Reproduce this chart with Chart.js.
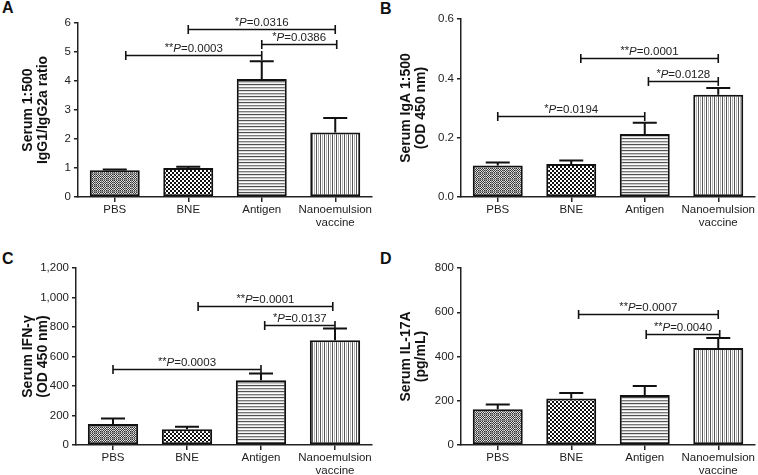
<!DOCTYPE html>
<html><head><meta charset="utf-8">
<script src="https://cdn.jsdelivr.net/npm/chart.js@4"></script>
<style>
body{margin:0;background:#fff;width:758px;height:475px;position:relative;overflow:hidden;font-family:"Liberation Sans",Arial,sans-serif}
canvas{position:absolute}
.lab{position:absolute;font-weight:bold;font-size:16px;line-height:16px;color:#111}
</style></head><body>
<div class="lab" style="left:2px;top:0px">A</div>
<div class="lab" style="left:380px;top:1px">B</div>
<div class="lab" style="left:2px;top:251px">C</div>
<div class="lab" style="left:380px;top:251px">D</div>
<canvas id="cA" width="378" height="235" style="left:0;top:0"></canvas>
<canvas id="cB" width="380" height="235" style="left:378px;top:0"></canvas>
<canvas id="cC" width="378" height="240" style="left:0;top:235px"></canvas>
<canvas id="cD" width="380" height="240" style="left:378px;top:235px"></canvas>
<script>
// ---- data ----
const categories = ['PBS', 'BNE', 'Antigen', ['Nanoemulsion', 'vaccine']];

const ratioMeans = [0.92, 1.00, 4.07, 2.22];
const ratioSem   = [0.03, 0.04, 0.61, 0.50];
const ratioTicks = [0, 1, 2, 3, 4, 5, 6];
// [fromCategory, toCategory, yValue, stars, pValue]
const ratioSig = [[0.15, 2, 4.9, '**', '0.0003'], [1, 3, 5.8, '*', '0.0316'], [2, 3.02, 5.29, '*', '0.0386']];

const igaMeans = [0.106, 0.111, 0.212, 0.345];
const igaSem   = [0.010, 0.012, 0.038, 0.022];
const igaTicks = [0.0, 0.2, 0.4, 0.6];
const igaSig = [[0, 2, 0.274, '*', '0.0194'], [1.13, 3, 0.468, '**', '0.0001'], [2.05, 3, 0.391, '*', '0.0128']];

const ifnMeans = [143, 106, 439, 711];
const ifnSem   = [36, 18, 45, 79];
const ifnTicks = [0, 200, 400, 600, 800, 1000, 1200];
const ifnSig = [[0, 2, 516, '**', '0.0003'], [1.15, 2.97, 942, '**', '0.0001'], [2.05, 3, 815, '*', '0.0137']];

const il17Means = [162, 210, 226, 438];
const il17Sem   = [21, 25, 41, 46];
const il17Ticks = [0, 200, 400, 600, 800];
const il17Sig = [[1.1, 3, 593, '**', '0.0007'], [2.02, 3.02, 502, '**', '0.0040']];

// ---- patterns ----
const FAM = '"Liberation Sans", Arial, sans-serif';
function makePattern(w, h, fn) {
  const c = document.createElement('canvas'); c.width = w; c.height = h;
  const g = c.getContext('2d'); fn(g, w, h);
  return g.createPattern(c, 'repeat');
}
function px(g, x, y, col) { g.fillStyle = col; g.fillRect(x, y, 1, 1); }
const patPBS = makePattern(6, 6, (g, w, h) => {
  for (let y = 0; y < h; y++) for (let x = 0; x < w; x++) px(g, x, y, (x + y) % 2 ? '#e0e0e0' : '#353535');
  for (let i = 0; i < 6; i++) { px(g, 5, i, '#8a8a8a'); px(g, i, 5, '#8a8a8a'); }
});
const patBNE = makePattern(4, 4, (g) => {
  g.fillStyle = '#fff'; g.fillRect(0, 0, 4, 4);
  g.fillStyle = '#111'; g.fillRect(0, 0, 2, 2); g.fillRect(2, 2, 2, 2);
});
const patAnt = makePattern(2, 6, (g, w) => {
  const rows = ['#505050', '#dcdcdc', '#ffffff', '#7a7a7a', '#c8c8c8', '#f4f4f4'];
  rows.forEach((c, i) => { g.fillStyle = c; g.fillRect(0, i, w, 1); });
});
const patNano = makePattern(4, 2, (g, w, h) => {
  const cols = ['#555555', '#ffffff', '#b4b4b4', '#ffffff'];
  cols.forEach((c, i) => { g.fillStyle = c; g.fillRect(i, 0, 1, h); });
});
const patterns = [patPBS, patBNE, patAnt, patNano];

function annotPlugin(means, sem, sig) {
  return {
    id: 'annot',
    afterDatasetsDraw(chart) {
      const { ctx, scales: { x, y } } = chart;
      ctx.save();
      ctx.strokeStyle = '#111'; ctx.lineWidth = 2;
      means.forEach((m, i) => {
        const cx = x.getPixelForValue(i);
        const y0 = y.getPixelForValue(m), y1 = y.getPixelForValue(m + sem[i]);
        ctx.beginPath();
        ctx.moveTo(cx, y0); ctx.lineTo(cx, y1);
        ctx.moveTo(cx - 12, y1); ctx.lineTo(cx + 12, y1);
        ctx.stroke();
      });
      ctx.lineWidth = 1.6;
      sig.forEach(([f, t, v, stars, p]) => {
        const x0 = x.getPixelForValue(f), x1 = x.getPixelForValue(t), yy = Math.round(y.getPixelForValue(v)) + 0.5;
        ctx.beginPath();
        ctx.moveTo(x0, yy); ctx.lineTo(x1, yy);
        ctx.moveTo(x0, yy - 4.5); ctx.lineTo(x0, yy + 4.5);
        ctx.moveTo(x1, yy - 4.5); ctx.lineTo(x1, yy + 4.5);
        ctx.stroke();
        const fStar = '11px ' + FAM, fP = 'italic 11.5px ' + FAM, fN = '11.5px ' + FAM;
        ctx.font = fStar; const ws = ctx.measureText(stars).width;
        ctx.font = fP; const wp = ctx.measureText('P').width;
        const rest = '=' + p;
        ctx.font = fN; const wr = ctx.measureText(rest).width;
        let sx = (x0 + x1) / 2 - (ws + wp + wr) / 2;
        const base = yy - 4;
        ctx.fillStyle = '#222'; ctx.textBaseline = 'alphabetic'; ctx.textAlign = 'left';
        ctx.font = fStar; ctx.fillText(stars, sx, base - 1); sx += ws;
        ctx.font = fP; ctx.fillText('P', sx, base); sx += wp;
        ctx.font = fN; ctx.fillText(rest, sx, base);
      });
      ctx.restore();
    }
  };
}

function makeChart(id, means, sem, ticks, fmt, title, sig, d) {
  const yMax = ticks[ticks.length - 1];
  new Chart(document.getElementById(id), {
    type: 'bar',
    data: { labels: categories, datasets: [{ data: means, backgroundColor: patterns, borderColor: '#111', borderWidth: 2, borderSkipped: false, barPercentage: 0.68, categoryPercentage: 1 }] },
    options: {
      responsive: false, animation: false, devicePixelRatio: 1,
      layout: { padding: { top: d.top, right: d.right, left: 0, bottom: 0 } },
      plugins: { legend: { display: false }, tooltip: { enabled: false } },
      scales: {
        x: {
          grid: { display: true, drawOnChartArea: false, drawTicks: true, tickLength: 5, color: '#222', lineWidth: 1.5, offset: false },
          border: { display: true, color: '#222', width: 1.5 },
          ticks: { color: '#222', font: { size: 11.5, family: FAM, lineHeight: 1.1 }, padding: 2, maxRotation: 0, autoSkip: false },
          afterFit(s) { s.height = d.xh; }
        },
        y: {
          min: 0, max: yMax,
          afterBuildTicks(s) { s.ticks = ticks.map(v => ({ value: v })); },
          ticks: { color: '#222', font: { size: 11.5, family: FAM }, padding: 3, callback: fmt },
          grid: { display: true, drawOnChartArea: false, drawTicks: true, tickLength: 4, color: '#222', lineWidth: 1.5 },
          border: { display: true, color: '#222', width: 1.5 },
          title: { display: true, text: title, color: '#111', font: { size: 14, weight: 'bold', family: FAM, lineHeight: 1.1 }, padding: { top: 20, bottom: 0 } },
          afterFit(s) { s.width = d.yw; }
        }
      }
    },
    plugins: [annotPlugin(means, sem, sig)]
  });
}

makeChart('cA', ratioMeans, ratioSem, ratioTicks, v => String(v), ['Serum 1:500', 'IgG1/IgG2a ratio'], ratioSig, { yw: 78, xh: 38, top: 23, right: 6 });
makeChart('cB', igaMeans, igaSem, igaTicks, v => v.toFixed(1), ['Serum IgA 1:500', '(OD 450 nm)'], igaSig, { yw: 83, xh: 38, top: 19, right: 3 });
makeChart('cC', ifnMeans, ifnSem, ifnTicks, v => v.toLocaleString('en-US'), ['Serum IFN-\u03b3', '(OD 450 nm)'], ifnSig, { yw: 76, xh: 30, top: 33, right: 6 });
makeChart('cD', il17Means, il17Sem, il17Ticks, v => String(v), ['Serum IL-17A', '(pg/mL)'], il17Sig, { yw: 83, xh: 30, top: 33, right: 3 });
</script>
</body></html>
